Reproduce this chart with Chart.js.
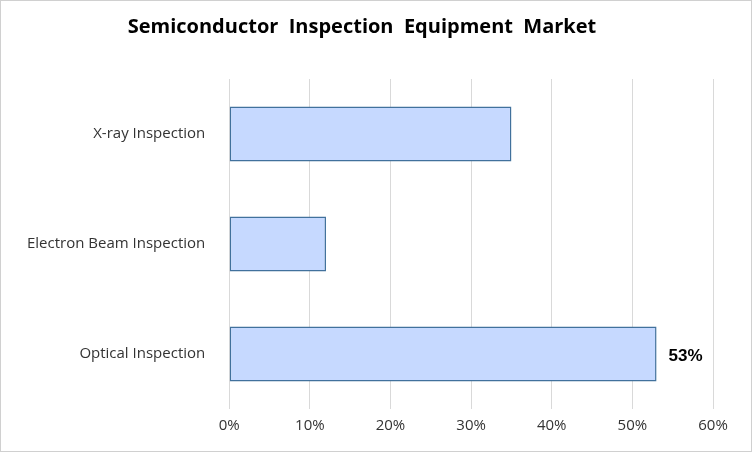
<!DOCTYPE html>
<html><head><meta charset="utf-8">
<script src="https://cdn.jsdelivr.net/npm/chart.js@4"></script>
<style>html,body{margin:0;padding:0;background:#fff}#w{position:relative;width:750px;height:450px;border:1px solid #d0d0d0}</style>
</head><body><div id="w"><canvas id="c" width="750" height="450"></canvas></div>
<script>
const categories = ["X-ray Inspection", "Electron Beam Inspection", "Optical Inspection"];
const values = [35, 12, 53];
const ticks = [0, 10, 20, 30, 40, 50, 60];
const labelShown = [false, false, true];

const labelPlugin = {
  id: 'lbl',
  afterDatasetsDraw(chart) {
    const ctx = chart.ctx;
    const meta = chart.getDatasetMeta(0);
    meta.data.forEach((bar, i) => {
      if (!labelShown[i]) return;
      ctx.save();
      ctx.font = 'bold 17px "Liberation Sans", Arial, sans-serif';
      ctx.fillStyle = '#000';
      ctx.textBaseline = 'middle';
      ctx.fillText(values[i] + '%', bar.x + 12, bar.y + 2);
      ctx.restore();
    });
  }
};

const ctx = document.getElementById('c').getContext('2d');
new Chart(ctx, {
  type: 'bar',
  data: { labels: categories, datasets: [{
    data: values,
    backgroundColor: (c) => {
      const meta = c.chart.getDatasetMeta(0);
      const el = meta && meta.data ? meta.data[c.dataIndex] : null;
      if (!el || !isFinite(el.y) || !isFinite(el.height) || el.height <= 0) return '#c6d9ff';
      const h = el.height;
      const g = c.chart.ctx.createLinearGradient(0, el.y - h / 2, 0, el.y + h / 2);
      g.addColorStop(0, '#f4f8ff');
      g.addColorStop(1, '#a9c6ff');
      return g;
    },
    borderColor: '#41719c', borderWidth: 1.5, borderSkipped: false,
    barPercentage: 0.5, categoryPercentage: 1
  }]},
  options: {
    indexAxis: 'y', responsive: false, animation: false,
    layout: { padding: { left: 10, right: 38, top: 10, bottom: 8 } },
    plugins: {
      legend: { display: false }, tooltip: { enabled: false },
      title: { display: true, text: 'Semiconductor  Inspection  Equipment  Market',
        font: { size: 20, weight: 'bold', family: '"Open Sans", sans-serif' }, color: '#000',
        padding: { top: 4, bottom: 40 } }
    },
    scales: {
      x: { min: 0, max: 60, afterBuildTicks: (s) => { s.ticks = ticks.map(v => ({ value: v })); },
        ticks: { callback: v => v + '%', color: '#333', font: { size: 15, family: '"Open Sans", sans-serif' }, padding: 8 },
        grid: { color: '#d9d9d9', drawTicks: false }, border: { display: false } },
      y: { ticks: { color: '#333', font: { size: 15, family: '"Open Sans", sans-serif' }, padding: 16 },
        grid: { display: false }, border: { display: false } }
    }
  },
  plugins: [labelPlugin]
});
</script></body></html>
